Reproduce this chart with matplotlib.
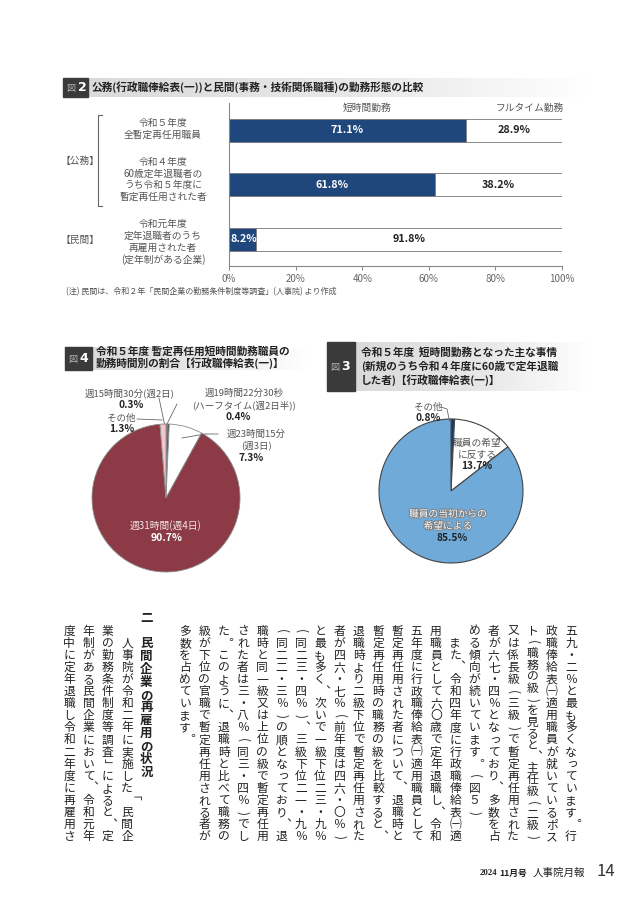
import numpy as np
import matplotlib.pyplot as plt
import matplotlib.patheffects as pe
from matplotlib.colors import LinearSegmentedColormap
from matplotlib.patches import Rectangle

plt.rcParams['font.family'] = ['Noto Sans CJK JP', 'DejaVu Sans']

W, H = 637, 900

# ---- 図2 data ----
bar_cats = ['令和５年度\n全暫定再任用職員',
            '令和４年度\n60歳定年退職者の\nうち令和５年度に\n暫定再任用された者',
            '令和元年度\n定年退職者のうち\n再雇用された者\n(定年制がある企業)']
short_time = [71.1, 61.8, 8.2]
full_time = [28.9, 38.2, 91.8]
x_ticks = [0, 20, 40, 60, 80, 100]

# ---- 図4 data (clockwise from top) ----
fig4_names = ['週15時間30分(週2日)', '週19時間22分30秒\n(ハーフタイム(週2日半))',
              '週23時間15分\n(週3日)', '週31時間(週4日)', 'その他']
fig4_values = [0.3, 0.4, 7.3, 90.7, 1.3]

# ---- 図3 data (clockwise from top) ----
fig3_names = ['その他', '職員の希望\nに反する', '職員の当初からの\n希望による']
fig3_values = [0.8, 13.7, 85.5]

# ---- body text, columns right to left ----
body_cols = [
    '五九・二％と最も多くなっています。行',
    '政職俸給表㈠適用職員が就いているポス',
    'ト（職務の級）を見ると、主任級（二級）',
    '又は係長級（三級）で暫定再任用された',
    '者が六七・四％となっており、多数を占',
    'める傾向が続いています。（図５）',
    '　また、令和四年度に行政職俸給表㈠適',
    '用職員として六〇歳で定年退職し、令和',
    '五年度に行政職俸給表㈠適用職員として',
    '暫定再任用された者について、退職時と',
    '暫定再任用時の職務の級を比較すると、',
    '退職時より二級下位で暫定再任用された',
    '者が四六・七％（前年度は四六・〇％）',
    'と最も多く、次いで一級下位二三・九％',
    '（同二三・四％）、三級下位二一・九％',
    '（同二二・三％）の順となっており、退',
    '職時と同一級又は上位の級で暫定再任用',
    'された者は三・八％（同三・四％）でし',
    'た。このように、退職時と比べて職務の',
    '級が下位の官職で暫定再任用される者が',
    '多数を占めています。',
    '',
    '二　民間企業の再雇用の状況',
    '　人事院が令和二年に実施した「民間企',
    '業の勤務条件制度等調査」によると、定',
    '年制がある民間企業において、令和元年',
    '度中に定年退職し令和二年度に再雇用さ',
]
para_end = [5, 20]
heading_col = 22

GRAY = '#555555'
DARK = '#222222'

fig = plt.figure(figsize=(W / 100, H / 100), dpi=100)


def px_axes(x0, y0, x1, y1, **kw):
    return fig.add_axes([x0 / W, 1 - y1 / H, (x1 - x0) / W, (y1 - y0) / H], **kw)


page = px_axes(0, 0, W, H, zorder=5)
page.axis('off')

grad_cm = LinearSegmentedColormap.from_list(
    'hdr', [(0, '#dadada'), (0.55, '#e8e8e8'), (1, '#ffffff')])


def header(bx0, by0, bx1, by1, gx1, num, lines, tx, ty, pitch):
    g = np.linspace(0, 1, 256).reshape(1, -1)
    page.imshow(g, extent=[bx1, gx1, by1, by0], aspect='auto', cmap=grad_cm, zorder=0)
    page.add_patch(Rectangle((bx0, by0), bx1 - bx0, by1 - by0, color='#3a3a3a', zorder=1))
    cy = (by0 + by1) / 2
    page.text(bx0 + 8, cy + 1, '図', color='#b8b8b8', fontsize=6.5, ha='center', va='center')
    page.text(bx0 + 19, cy, num, color='white', fontsize=9, fontweight='bold',
              ha='center', va='center', family=['DejaVu Sans'])
    for i, ln in enumerate(lines):
        page.text(tx, ty + i * pitch, ln, fontsize=7.7, fontweight='bold', color=DARK,
                  ha='left', va='center')


def text_lines(x, y0, pitch, s, **kw):
    for i, ln in enumerate(s.split('\n')):
        page.text(x, y0 + i * pitch, ln, ha='center', va='center', **kw)


# ---------------- 図2 ----------------
header(63, 78, 88, 97, 592, '2',
       ['公務(行政職俸給表(一))と民間(事務・技術関係職種)の勤務形態の比較'], 92, 87, 0)

ax = px_axes(229, 103, 562, 266)
ypos = np.arange(len(short_time))
ax.barh(ypos, short_time, height=0.42, color='#1f477c', edgecolor='#777777', linewidth=0.6)
ax.barh(ypos, full_time, left=short_time, height=0.42, color='white',
        edgecolor='#777777', linewidth=0.6)
for y, s, f in zip(ypos, short_time, full_time):
    ax.text(s / 2 if s > 15 else s / 2 + 0.3, y, f'{s}%', color='white', fontweight='bold',
            fontsize=7.8, ha='center', va='center')
    ax.text(s + f / 2, y, f'{f}%', color=DARK, fontweight='bold', fontsize=7.8,
            ha='center', va='center')
ax.set_xlim(0, 100)
ax.set_ylim(2.49, -0.5)
ax.set_xticks(x_ticks)
ax.set_xticklabels([f'{t}%' for t in x_ticks], fontsize=7, color='#666666')
ax.set_yticks([])
ax.tick_params(axis='x', length=3, width=0.7, color='#888888', pad=3)
for sp in ['top', 'right']:
    ax.spines[sp].set_visible(False)
for sp in ['left', 'bottom']:
    ax.spines[sp].set_color('#888888')
    ax.spines[sp].set_linewidth(0.8)
ax.patch.set_alpha(0)

page.text(367, 108, '短時間勤務', fontsize=7, color=GRAY, ha='center', va='center')
page.text(530, 108, 'フルタイム勤務', fontsize=7, color=GRAY, ha='center', va='center')

for s, y0 in zip(bar_cats, [123, 162, 224]):
    text_lines(163, y0, 11.7, s, fontsize=7, color=GRAY)

page.plot([102, 98, 98, 102], [115, 115, 206, 206], color='#666666', lw=0.8)
page.text(80, 161, '【公務】', fontsize=7, color=GRAY, ha='center', va='center')
page.text(80, 240, '【民間】', fontsize=7, color=GRAY, ha='center', va='center')
page.text(66, 292, '(注) 民間は、令和２年「民間企業の勤務条件制度等調査」(人事院) より作成',
          fontsize=5.8, color=GRAY, ha='left', va='center')

# ---------------- 図4 ----------------
header(65, 347, 92, 370, 308, '4',
       ['令和５年度 暫定再任用短時間勤務職員の', '勤務時間別の割合【行政職俸給表(一)】'],
       96, 351, 12.5)

cx4, cy4, r4 = 166, 498, 74
ax4 = px_axes(cx4 - r4, cy4 - r4, cx4 + r4, cy4 + r4)
ax4.pie(fig4_values, colors=['#6a6a6a', '#2e2e2e', 'white', '#8c3a46', '#f2c6cc'],
        startangle=90, counterclock=False, radius=1,
        wedgeprops=dict(edgecolor='#8a8a8a', linewidth=0.6))
ax4.set_xlim(-1, 1)
ax4.set_ylim(-1, 1)
ax4.axis('off')

page.text(130, 393, fig4_names[0], fontsize=6.8, color=GRAY, ha='center', va='center')
page.text(131, 405, f'{fig4_values[0]}%', fontsize=7.3, color=DARK, fontweight='bold',
          ha='center', va='center')
text_lines(244, 393, 12, fig4_names[1], fontsize=6.8, color=GRAY)
page.text(238, 417, f'{fig4_values[1]}%', fontsize=7.3, color=DARK, fontweight='bold',
          ha='center', va='center')
page.text(121, 418, fig4_names[4], fontsize=6.8, color=GRAY, ha='center', va='center')
page.text(122, 429, f'{fig4_values[4]}%', fontsize=7.3, color=DARK, fontweight='bold',
          ha='center', va='center')
text_lines(256, 434, 11.5, fig4_names[2], fontsize=6.8, color=GRAY)
page.text(251, 458, f'{fig4_values[2]}%', fontsize=7.3, color=DARK, fontweight='bold',
          ha='center', va='center')
page.text(166, 526, fig4_names[3], fontsize=7, color='#f4e6e8', ha='center', va='center')
page.text(167, 538, f'{fig4_values[3]}%', fontsize=7.5, color='white', fontweight='bold',
          ha='center', va='center')
lc = dict(color='#666666', lw=0.6)
page.plot([159, 164.5], [398, 424], **lc)
page.plot([177, 167], [404, 424], **lc)
page.plot([137, 162], [419, 420], **lc)
page.plot([182, 205, 218], [438, 434, 434], **lc)

# ---------------- 図3 ----------------
header(327, 342, 355, 391, 592, '3',
       ['令和５年度  短時間勤務となった主な事情', '(新規のうち令和４年度に60歳で定年退職',
        'した者)【行政職俸給表(一)】'], 361, 352, 14)

cx3, cy3, r3 = 451, 491, 72
ax3 = px_axes(cx3 - r3, cy3 - r3, cx3 + r3, cy3 + r3)
ax3.pie(fig3_values, colors=['#1d3a66', 'white', '#70aad9'],
        startangle=90, counterclock=False, radius=1,
        wedgeprops=dict(edgecolor='#444444', linewidth=0.8))
ax3.set_xlim(-1, 1)
ax3.set_ylim(-1, 1)
ax3.axis('off')

page.text(428, 407, fig3_names[0], fontsize=6.8, color=GRAY, ha='center', va='center')
page.text(428, 418, f'{fig3_values[0]}%', fontsize=7.3, color=DARK, fontweight='bold',
          ha='center', va='center')
page.plot([441, 447, 449.5], [407, 409, 421], **lc)
text_lines(477, 443, 11.5, fig3_names[1], fontsize=7, color=GRAY)
page.text(477, 466, f'{fig3_values[1]}%', fontsize=7.3, color=DARK, fontweight='bold',
          ha='center', va='center')
text_lines(448, 514, 12, fig3_names[2], fontsize=7, color='white',
           path_effects=[pe.withStroke(linewidth=1.2, foreground='#7a7a7a')])
page.text(452, 538, f'{fig3_values[2]}%', fontsize=7.3, color=DARK, fontweight='bold',
          ha='center', va='center')

# ---------------- vertical body text ----------------
ROT = {'（': '(', '）': ')', '「': '「', '」': '」'}
VPUNCT = {'、': '\ufe11', '。': '\ufe12'}
SMALL = 'っゃゅょぁぃぅぇぉ'


def vcolumn(x, ytop, s, em, size, justify, weight='normal'):
    # one em per character; full lines are squeezed to 18 em
    step = em * (18 / len(s) if justify and len(s) > 18 else 1.0)
    for k, c in enumerate(s):
        yc = ytop + (k + 0.5) * step
        if c == '　':
            continue
        kw = dict(fontsize=size, color=DARK, fontweight=weight, ha='center', va='center')
        if c in ROT:
            page.text(x, yc, ROT[c], rotation=-90, **kw)
        elif c in VPUNCT:
            page.text(x + 0.3 * em, yc, VPUNCT[c], **kw)
        elif c in SMALL:
            page.text(x + 0.08 * em, yc, c, **kw)
        else:
            page.text(x, yc, c, **kw)


for i, col in enumerate(body_cols):
    if not col:
        continue
    x = 571 - 19.3 * i
    if i == heading_col:
        vcolumn(x, 612, col, 12.8, 9, False, weight='bold')
    else:
        vcolumn(x, 625, col, 12.1, 8.5, i not in para_end)

# ---------------- footer ----------------
page.text(480, 873, '2024', fontsize=6.3, fontweight='bold', color=DARK, ha='left',
          va='center', family=['Liberation Serif'])
page.text(499, 873, '11月号', fontsize=6.3, fontweight='bold', color=DARK, ha='left', va='center')
page.text(533, 873, '人事院月報', fontsize=7.6, color=DARK, ha='left', va='center')
page.text(597, 872, '14', fontsize=12, color='#333333', ha='left', va='center')

page.set_xlim(0, W)
page.set_ylim(H, 0)

fig.savefig('out.png', dpi=100, facecolor='white')
